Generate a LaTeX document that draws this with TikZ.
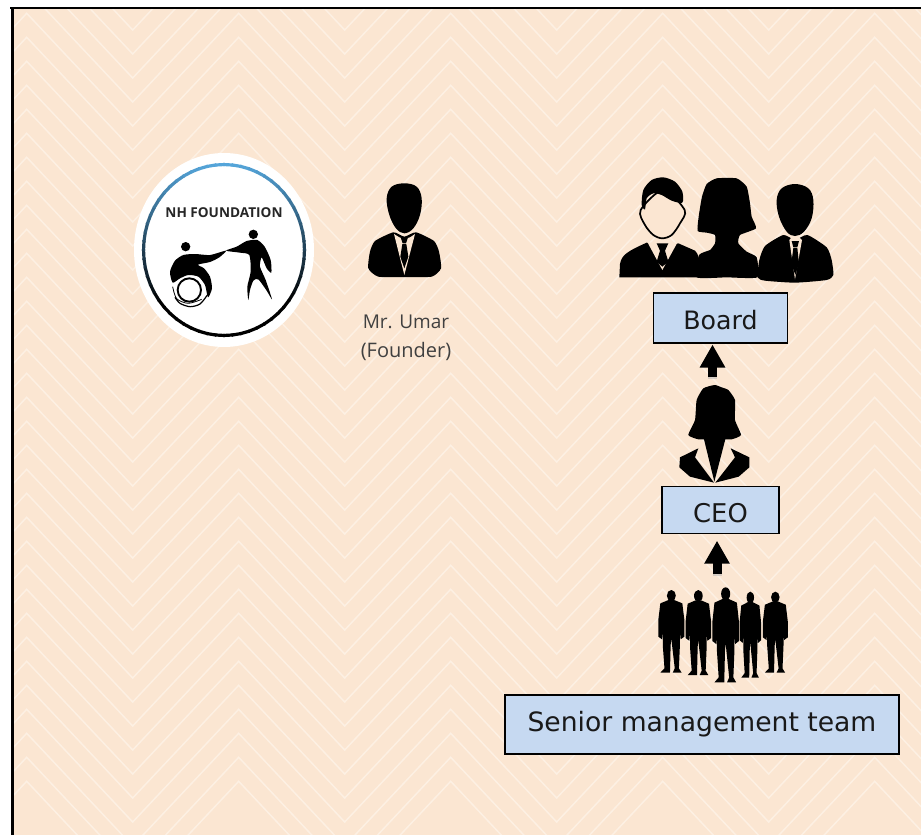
\documentclass[tikz,border=0pt]{standalone}
\usepackage{fontspec}
\setmainfont{DejaVu Sans}
\newfontfamily\logofont{Open Sans}
\usetikzlibrary{arrows.meta}
\definecolor{bgpeach}{HTML}{FBE6D2}
\definecolor{chev}{HTML}{FDF0E3}
\definecolor{boxblue}{HTML}{C6D9F1}
\definecolor{ringblue}{HTML}{55A5DA}
\tikzset{
  boxnode/.style={draw=black,line width=1.2pt,fill=boxblue,inner sep=0pt,outer sep=0pt,text=black!90,anchor=center},
  blockarrow/.style={draw=black,line width=9pt,-{Triangle[width=24pt,length=23pt]},shorten >=0pt},
  blockshadow/.style={draw=black!30,line width=9pt,opacity=.5},
  ink/.style={fill=black,draw=none},
  skin/.style={fill=bgpeach,draw=none},
}
\newcommand{\sil}[4]{%
\begin{scope}[shift={(#1,#2)},xscale=#3,yscale=#4]
 \fill[ink] (0,17) ellipse [x radius=13,y radius=17];
 \fill[ink] (-8,30)--(-32,40)--(-38,90)--(-38,140)--(-27,148)--(-25,125)--(-25,165)--(-20,235)--(-32,248)--(-4,248)--(-2,165)--(0,145)--(2,165)--(10,235)--(4,248)--(30,248)--(22,235)--(25,165)--(25,125)--(27,148)--(38,140)--(38,90)--(32,40)--(8,30)--cycle;
\end{scope}}
\begin{document}
\begin{tikzpicture}[x=1pt,y=-1pt]
\useasboundingbox (0,0) rectangle (921,835);
\begin{scope}
\clip (12.5,8) rectangle (921,835);
\fill[bgpeach] (0,0) rectangle (921,835);
\foreach \k in {-8,...,32}{
  \draw[chev,line width=1.5pt,line join=miter]
   ({26.7-212},{13.3+\k*24}) \foreach \i in {0,...,5}{ -- ++(106,112.7) -- ++(106,-112.7) };
}
\end{scope}
\draw[black,line width=1.3pt] (10,8) -- (925,8);
\draw[black,line width=2.2pt] (12.5,8) -- (12.5,840);

% logo
\fill[white] (224,250) ellipse [x radius=90,y radius=97];
\foreach \a in {0,6,...,354}{
  \pgfmathsetmacro{\p}{min(100,(1+sin(\a+3))*62)}
  \draw[line width=3.2pt,color=black!\p!ringblue]
    ({224+80.5*cos(\a-.5)},{250+85.5*sin(\a-.5)}) -- ({224+80.5*cos(\a+6.5)},{250+85.5*sin(\a+6.5)});
}
\node[font=\logofont\bfseries,text=black!85,inner sep=0pt] (logotext) at (224,213) {\fontsize{13.6}{15}\selectfont NH FOUNDATION};
\begin{scope}[shift={(120,140)},xscale=1/3,yscale=1/3]
 % wheelchair figure
 \fill[ink] (197,320) circle [radius=14];
 \fill[ink] plot[smooth cycle,tension=0.4] coordinates {(318,332) (270,345) (225,342) (190,345) (165,362) (150,395) (158,428) (180,415) (205,405) (235,410) (255,435) (264,472) (276,445) (270,410) (252,385) (234,374) (270,366) (298,352)};
 \draw[black,line width=1.9pt] (208,450) circle [radius=35];
 \draw[black,line width=1.2pt] plot[smooth] coordinates {(165,472) (180,490) (210,500) (240,492) (262,465)};
 \draw[black,line width=.8pt] plot[smooth] coordinates {(158,440) (170,476) (205,490) (245,478)};
 % standing figure
 \fill[ink] (400,283) circle [radius=14];
 \fill[ink] plot[smooth cycle,tension=0.4] coordinates {(318,332) (350,320) (380,303) (412,300) (434,320) (452,360) (454,398) (440,385) (425,352) (420,380) (437,420) (456,478) (440,452) (415,418) (400,422) (390,450) (385,480) (382,440) (392,395) (388,345) (360,338)};
 % founder
 \fill[ink] plot[smooth cycle,tension=0.6] coordinates {(853,130) (890,140) (905,175) (900,225) (880,265) (853,280) (828,265) (808,225) (800,175) (815,140)};
 \fill[ink] plot[smooth cycle,tension=0.35] coordinates {(820,277) (765,303) (750,335) (745,385) (775,410) (853,411) (935,410) (963,385) (957,335) (942,303) (888,277) (853,290)};
 \fill[skin] (822,282)--(853,405)--(885,282)--(870,292)--(853,297)--(838,292)--cycle;
 \fill[ink] (842,292)--(864,292)--(858,310)--(848,310)--cycle;
 \fill[ink] (847,312)--(859,312)--(865,350)--(853,385)--(841,350)--cycle;
\end{scope}
\node[font=\logofont,text=black!75,inner sep=0pt] (umar) at (406,322) {\fontsize{19}{22}\selectfont Mr. Umar};
\node[font=\logofont,text=black!75,inner sep=0pt] (founder) at (406,351) {\fontsize{20}{22}\selectfont (Founder)};

% board icons
\begin{scope}[shift={(600,160)},xscale=1/3,yscale=1/3]
 % woman
 \fill[ink] plot[smooth cycle,tension=0.3] coordinates {(293,213) (296,170) (306,110) (320,72) (350,55) (410,55) (440,80) (450,130) (455,170) (468,205) (420,225) (415,250) (440,275) (470,292) (472,352) (380,352) (290,352) (297,285) (330,270) (345,250) (345,225) (320,218)};
 % left man
 \fill[ink] (58,352)--(60,312) .. controls (65,285) and (80,275) .. (140,248)--(187,260)--(235,250)--(285,272) .. controls (295,280) and (300,300) .. (300,352)--cycle;
 \fill[skin] (143,248)--(187,330)--(232,248)--cycle;
 \fill[ink] (170,250)--(205,250)--(195,272)--(205,305)--(187,320)--(170,305)--(180,272)--cycle;
 \filldraw[fill=bgpeach,draw=black,line width=1.7pt] plot[smooth cycle,tension=0.5] coordinates {(122,150) (135,195) (160,225) (187,235) (215,225) (240,190) (254,150) (190,90)};
 \fill[ink] plot[smooth cycle,tension=0.45] coordinates {(125,135) (130,90) (155,60) (190,52) (225,65) (247,95) (247,128) (215,122) (185,105) (160,100) (140,115) (135,148)};
 % right man
 \fill[ink] plot[smooth cycle,tension=0.35] coordinates {(550,225) (495,258) (478,300) (473,352) (495,362) (585,368) (680,360) (700,345) (695,300) (680,262) (622,225) (585,240)};
 \fill[ink] plot[smooth cycle,tension=0.6] coordinates {(585,72) (625,85) (640,120) (635,175) (612,215) (585,228) (560,215) (537,170) (530,120) (545,85)};
 \fill[skin] (568,240)--(585,358)--(606,240)--(597,232)--(575,232)--cycle;
 \fill[ink] (575,243)--(597,243)--(592,262)--(580,262)--cycle;
 \fill[ink] (580,264)--(592,264)--(597,310)--(586,345)--(574,310)--cycle;
\end{scope}
% CEO icon
\begin{scope}[shift={(640,380)},xscale=1/3,yscale=1/3]
 \fill[ink] plot[smooth cycle,tension=0.3] coordinates {(224,15) (190,25) (170,60) (165,120) (145,165) (175,178) (205,178) (245,178) (275,178) (303,165) (285,120) (285,60) (265,30) (245,22)};
 \fill[ink] (190,170)--(223,305)--(258,170)--cycle;
 \fill[ink] (175,205)--(120,232)--(118,262)--(150,290)--(222,308)--(165,232)--cycle;
 \fill[ink] (272,205)--(328,232)--(328,262)--(296,290)--(226,308)--(285,232)--cycle;
\end{scope}
% team
\begin{scope}[shift={(640,380)},xscale=1/3,yscale=1/3]
 \sil{94}{630}{1.03}{1}
 \sil{175}{630}{1}{1.03}
 \sil{257}{622}{1.05}{1.15}
 \sil{331}{635}{.85}{1.04}
 \sil{406}{635}{.98}{.98}
\end{scope}

% boxes
\node[boxnode,minimum width=134pt,minimum height=50pt,text height=22.5pt,text depth=0pt] (board) at (720.5,318) {\fontsize{25.3}{30}\selectfont Board};
\node[boxnode,minimum width=117pt,minimum height=47pt,text height=25.7pt,text depth=0pt] (ceo) at (720.5,509.7) {\fontsize{25.8}{30}\selectfont CEO};
\node[boxnode,minimum width=394pt,minimum height=59pt] (smt) at (702,724.5) {\fontsize{26.6}{31}\selectfont Senior management team};

% arrows
\coordinate (ceotop) at (712.5,377);
\coordinate (boardfoot) at (712.5,344.5);
\coordinate (teamtop) at (717,574);
\coordinate (ceofoot) at (717,540.7);
\draw[blockshadow] (712.5,374) -- (712.5,379);
\draw[blockshadow] (717,571) -- (717,576);
\draw[blockarrow] (ceotop) -- (boardfoot);
\draw[blockarrow] (teamtop) -- (ceofoot);
\end{tikzpicture}
\end{document}
